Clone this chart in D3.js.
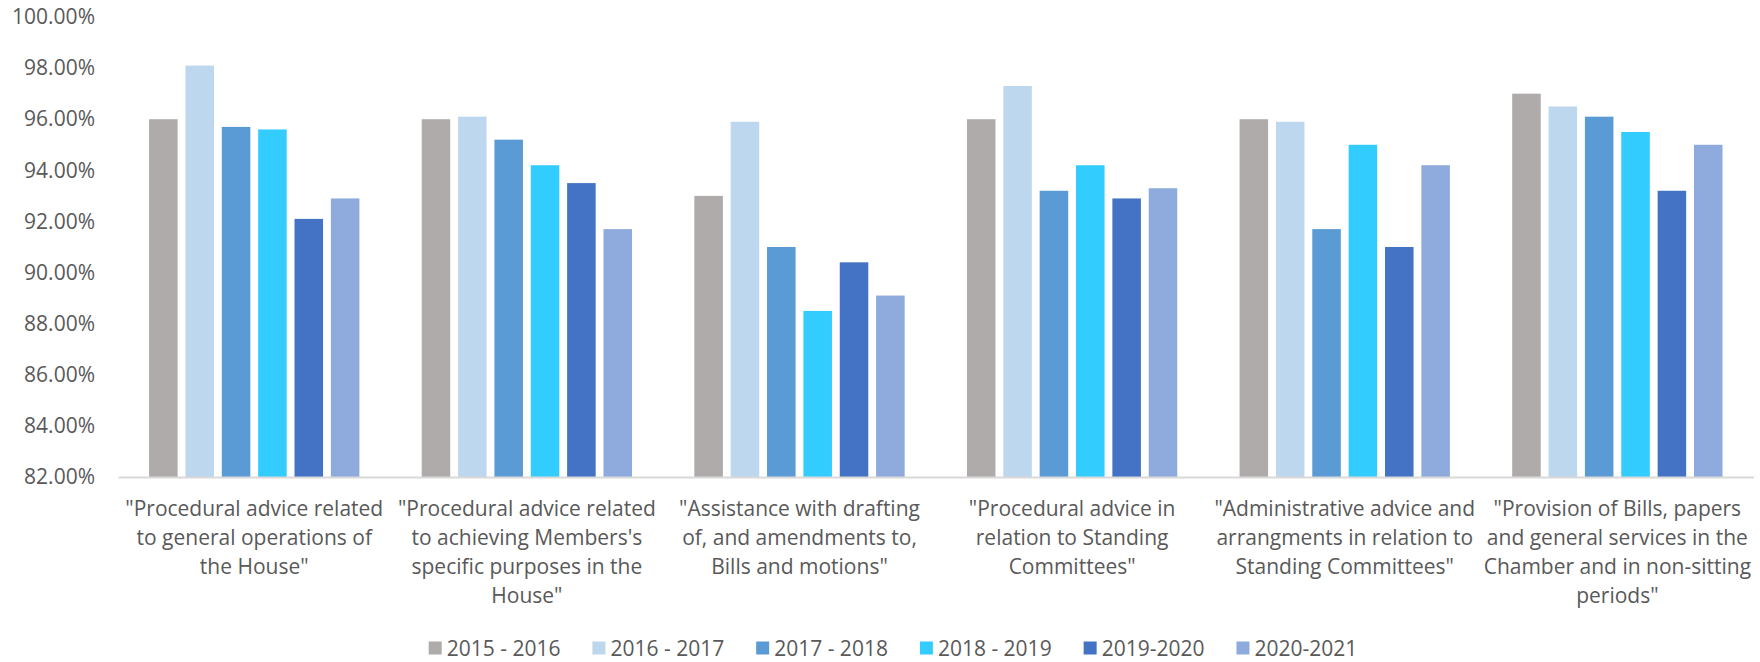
<!DOCTYPE html>
<html>
<head>
<meta charset="utf-8">
<script src="https://cdn.jsdelivr.net/npm/d3@7"></script>
<style>
  body { margin: 0; background: #fff; }
  text { font-family: "Open Sans", sans-serif; fill: #595959; }
</style>
</head>
<body>
<svg id="chart"></svg>
<script>
// Category labels, already broken into lines like the original
const categories = [
  ['"Procedural advice related', "to general operations of", 'the House"'],
  ['"Procedural advice related', "to achieving Members's", "specific purposes in the", 'House"'],
  ['"Assistance with drafting', "of, and amendments to,", 'Bills and motions"'],
  ['"Procedural advice in', "relation to Standing", 'Committees"'],
  ['"Administrative advice and', "arrangments in relation to", 'Standing Committees"'],
  ['"Provision of Bills, papers', "and general services in the", "Chamber and in non-sitting", 'periods"'],
];

const seriesNames = ["2015 - 2016", "2016 - 2017", "2017 - 2018", "2018 - 2019", "2019-2020", "2020-2021"];
const seriesColors = ["#afabab", "#bdd7ee", "#5b9bd5", "#33ccff", "#4472c4", "#8faadc"];

// Values in percent, one array per year
const y2015 = [96.0, 96.0, 93.0, 96.0, 96.0, 97.0];
const y2016 = [98.1, 96.1, 95.9, 97.3, 95.9, 96.5];
const y2017 = [95.7, 95.2, 91.0, 93.2, 91.7, 96.1];
const y2018 = [95.6, 94.2, 88.5, 94.2, 95.0, 95.5];
const y2019 = [92.1, 93.5, 90.4, 92.9, 91.0, 93.2];
const y2020 = [92.9, 91.7, 89.1, 93.3, 94.2, 95.0];
const seriesValues = [y2015, y2016, y2017, y2018, y2019, y2020];

const yTicks = [82, 84, 86, 88, 90, 92, 94, 96, 98, 100];

const width = 1760;
const height = 662;
const margin = { top: 17, right: 6.4, bottom: 185, left: 118 };

const svg = d3.select("#chart").attr("width", width).attr("height", height);

const catIds = categories.map((c, i) => i);

// Scales
const x0 = d3
  .scaleBand()
  .domain(catIds)
  .range([margin.left, width - margin.right])
  .paddingInner(0.2285)
  .paddingOuter(0.114);

const x1 = d3
  .scaleBand()
  .domain(d3.range(seriesNames.length))
  .range([0, x0.bandwidth()])
  .paddingInner(0.215)
  .paddingOuter(0);

const y = d3
  .scaleLinear()
  .domain([82, 100])
  .range([height - margin.bottom, margin.top]);

// Y axis labels only
const yAxis = svg
  .append("g")
  .attr("transform", `translate(${margin.left},0)`)
  .call(
    d3
      .axisLeft(y)
      .tickValues(yTicks)
      .tickSize(0)
      .tickPadding(23)
      .tickFormat((d) => d3.format(".2%")(d / 100))
  );
yAxis.select(".domain").remove();
yAxis.selectAll("text").attr("font-size", "21px").attr("font-family", null).attr("fill", null);

// Bars
const groups = svg
  .selectAll(".group")
  .data(catIds)
  .enter()
  .append("g")
  .attr("class", "group")
  .attr("transform", (d) => `translate(${x0(d)},0)`);

groups
  .selectAll("rect")
  .data((c) => seriesValues.map((vals, s) => ({ s: s, v: vals[c] })))
  .enter()
  .append("rect")
  .attr("x", (d) => x1(d.s))
  .attr("y", (d) => y(d.v))
  .attr("width", x1.bandwidth())
  .attr("height", (d) => y(82) - y(d.v))
  .attr("fill", (d) => seriesColors[d.s]);

// X axis line and wrapped category labels
const xAxis = svg
  .append("g")
  .attr("transform", `translate(0,${y(82)})`)
  .call(d3.axisBottom(x0).tickSize(0).tickSizeOuter(0).tickFormat(""));

xAxis.select(".domain").attr("stroke", "#d9d9d9").attr("stroke-width", 2);

xAxis
  .selectAll(".tick")
  .append("text")
  .attr("text-anchor", "middle")
  .attr("font-size", "21px")
  .selectAll("tspan")
  .data((d) => categories[d])
  .enter()
  .append("tspan")
  .attr("x", 0)
  .attr("y", (d, i) => 38.5 + i * 29)
  .text((d) => d);

// Legend
const legend = svg.append("g").attr("transform", "translate(0,648)");
let lx = 0;
seriesNames.forEach((name, i) => {
  const item = legend.append("g").attr("transform", `translate(${lx},0)`);
  item
    .append("rect")
    .attr("x", 0)
    .attr("y", -6.5)
    .attr("width", 13)
    .attr("height", 13)
    .attr("fill", seriesColors[i]);
  const t = item
    .append("text")
    .attr("x", 18)
    .attr("y", 7.5)
    .attr("font-size", "21px")
    .text(name);
  lx += 18 + t.node().getComputedTextLength() + 32;
});
const legendWidth = lx - 32;
legend.attr("transform", `translate(${893 - legendWidth / 2},648)`);
</script>
</body>
</html>
